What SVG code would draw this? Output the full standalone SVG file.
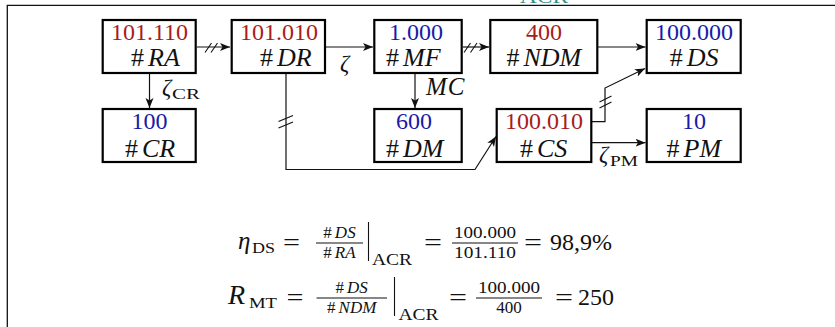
<svg xmlns="http://www.w3.org/2000/svg" width="835" height="327" viewBox="0 0 835 327">
<defs>
<style>
.box{fill:#fff;stroke:#000;stroke-width:2.2}
.num{font-family:"Liberation Serif",serif;font-size:24px;text-anchor:middle}
.red{fill:#a81c1c}
.blue{fill:#1a1aa8}
.it{font-family:"Liberation Serif",serif;font-size:26px;font-style:italic;fill:#111;text-anchor:middle}
.up{font-style:normal}
.lbl{font-family:"Liberation Serif",serif;fill:#111}
.con{fill:none;stroke:#111;stroke-width:1.2}
.tick{fill:none;stroke:#111;stroke-width:1.1}
.eq{font-family:"Liberation Serif",serif;fill:#111}
.rule{stroke:#111;stroke-width:1.1}
</style>
<marker id="ah" markerUnits="userSpaceOnUse" markerWidth="12" markerHeight="10" refX="10" refY="4" orient="auto">
<path d="M0,0 L10,4 L0,8 L2.5,4 z" fill="#111"/>
</marker>
</defs>
<rect width="835" height="327" fill="#fff"/>
<text x="520" y="3" font-family="Liberation Serif,serif" font-size="20" fill="#2e8f8f" textLength="48" lengthAdjust="spacingAndGlyphs">ACR</text>
<path d="M7.3,327 V5.3 H835" fill="none" stroke="#111" stroke-width="1.3"/>

<g id="connectors">
<path class="con" marker-end="url(#ah)" d="M197,47 H230"/>
<path class="con" marker-end="url(#ah)" d="M326,47 H373"/>
<path class="con" marker-end="url(#ah)" d="M463,47 H489"/>
<path class="con" marker-end="url(#ah)" d="M598,47 H645.5"/>
<path class="con" marker-end="url(#ah)" d="M149.5,74 V108"/>
<path class="con" marker-end="url(#ah)" d="M415,74 V108"/>
<path class="con" marker-end="url(#ah)" d="M286,74 V169.5 H475 L496,136.5"/>
<path class="con" marker-end="url(#ah)" d="M592,121.7 H605 V88 L645,68.5"/>
<path class="con" marker-end="url(#ah)" d="M592,142.7 H645.5"/>
<path class="tick" d="M205,52.5 L211.5,43 M211,52.5 L217.5,43"/>
<path class="tick" d="M464,52.5 L470.5,43 M470.5,52.5 L477,43"/>
<path class="tick" d="M278.5,121.5 L293,115.5 M278.5,128 L293,122"/>
<path class="tick" d="M599.5,102 L611.5,96 M599.5,108 L611.5,102"/>
<text class="lbl" x="340" y="71" font-size="23" font-style="italic">ζ</text>
<text class="lbl" x="162" y="95" font-size="23" font-style="italic">ζ</text>
<text class="lbl" x="172" y="98.5" font-size="15" textLength="28" lengthAdjust="spacingAndGlyphs">CR</text>
<text class="lbl" x="426" y="95" font-size="25" font-style="italic">M<tspan dx="1">C</tspan></text>
<text class="lbl" x="599" y="162" font-size="23" font-style="italic">ζ</text>
<text class="lbl" x="610" y="165.7" font-size="15" textLength="28" lengthAdjust="spacingAndGlyphs">PM</text>
</g>

<g id="node-RA">
<rect class="box" x="102.7" y="20" width="93" height="53"/>
<text class="num red" x="149.5" y="40">101.110</text>
<text class="it" x="155.5" y="66"><tspan class="up">#</tspan><tspan dx="4">R</tspan>A</text>
</g>
<g id="node-DR">
<rect class="box" x="231.7" y="20" width="93.3" height="53"/>
<text class="num red" x="279" y="40">101.010</text>
<text class="it" x="285.8" y="66"><tspan class="up">#</tspan><tspan dx="4">D</tspan>R</text>
</g>
<g id="node-MF">
<rect class="box" x="374.3" y="20" width="87.4" height="53"/>
<text class="num blue" x="416" y="40">1.000</text>
<text class="it" x="413.3" y="66"><tspan class="up">#</tspan><tspan dx="4">M</tspan>F</text>
</g>
<g id="node-NDM">
<rect class="box" x="490.3" y="20" width="107" height="53"/>
<text class="num red" x="544" y="40">400</text>
<text class="it" x="543.8" y="66"><tspan class="up">#</tspan><tspan dx="4">N</tspan>DM</text>
</g>
<g id="node-DS">
<rect class="box" x="646.7" y="20" width="94" height="53"/>
<text class="num blue" x="694" y="40">100.000</text>
<text class="it" x="694.2" y="66"><tspan class="up">#</tspan><tspan dx="4">D</tspan>S</text>
</g>
<g id="node-CR">
<rect class="box" x="102.7" y="109" width="93" height="53"/>
<text class="num blue" x="149.5" y="129.3">100</text>
<text class="it" x="150" y="156.5"><tspan class="up">#</tspan><tspan dx="4">C</tspan>R</text>
</g>
<g id="node-DM">
<rect class="box" x="374.3" y="109" width="87.4" height="53"/>
<text class="num blue" x="414" y="129.3">600</text>
<text class="it" x="414.7" y="156.5"><tspan class="up">#</tspan><tspan dx="4">D</tspan>M</text>
</g>
<g id="node-CS">
<rect class="box" x="496.7" y="109" width="94.6" height="53"/>
<text class="num red" x="544" y="129.3">100.010</text>
<text class="it" x="543.7" y="156.5"><tspan class="up">#</tspan><tspan dx="4">C</tspan>S</text>
</g>
<g id="node-PM">
<rect class="box" x="646.7" y="109" width="94" height="53"/>
<text class="num blue" x="694" y="129.3">10</text>
<text class="it" x="693.8" y="156.5"><tspan class="up">#</tspan><tspan dx="4">P</tspan>M</text>
</g>

<g id="equations">
<text class="eq" x="238" y="249" font-size="25" font-style="italic">η</text>
<text class="eq" x="252" y="253" font-size="15" textLength="23" lengthAdjust="spacingAndGlyphs">DS</text>
<text class="eq" x="283" y="249.5" font-size="24" textLength="17" lengthAdjust="spacingAndGlyphs">=</text>
<text class="eq" x="339.5" y="238" font-size="17" font-style="italic" text-anchor="middle"><tspan font-style="normal">#</tspan><tspan dx="3">D</tspan>S</text>
<line class="rule" x1="316" y1="243" x2="363" y2="243"/>
<text class="eq" x="339.5" y="258" font-size="17" font-style="italic" text-anchor="middle"><tspan font-style="normal">#</tspan><tspan dx="3">R</tspan>A</text>
<line class="rule" x1="368.5" y1="222" x2="368.5" y2="261" stroke-width="1.3"/>
<text class="eq" x="372" y="265" font-size="16" textLength="40" lengthAdjust="spacingAndGlyphs">ACR</text>
<text class="eq" x="424" y="249.5" font-size="24" textLength="18" lengthAdjust="spacingAndGlyphs">=</text>
<text class="eq" x="485" y="238" font-size="17" text-anchor="middle" textLength="62" lengthAdjust="spacingAndGlyphs">100.000</text>
<line class="rule" x1="452" y1="243" x2="518" y2="243"/>
<text class="eq" x="485" y="258" font-size="17" text-anchor="middle" textLength="62" lengthAdjust="spacingAndGlyphs">101.110</text>
<text class="eq" x="524" y="249.5" font-size="24" textLength="18" lengthAdjust="spacingAndGlyphs">=</text>
<text class="eq" x="550" y="250" font-size="24" textLength="62" lengthAdjust="spacingAndGlyphs">98,9%</text>

<text class="eq" x="228" y="304" font-size="28" font-style="italic">R</text>
<text class="eq" x="249" y="308" font-size="15" textLength="28" lengthAdjust="spacingAndGlyphs">MT</text>
<text class="eq" x="286.5" y="304.5" font-size="24" textLength="17" lengthAdjust="spacingAndGlyphs">=</text>
<text class="eq" x="351.7" y="293" font-size="17" font-style="italic" text-anchor="middle"><tspan font-style="normal">#</tspan><tspan dx="3">D</tspan>S</text>
<line class="rule" x1="316.5" y1="298" x2="387" y2="298"/>
<text class="eq" x="351.7" y="313" font-size="17" font-style="italic" text-anchor="middle"><tspan font-style="normal">#</tspan><tspan dx="3">N</tspan>DM</text>
<line class="rule" x1="394.5" y1="277" x2="394.5" y2="316" stroke-width="1.3"/>
<text class="eq" x="398.5" y="320" font-size="16" textLength="40" lengthAdjust="spacingAndGlyphs">ACR</text>
<text class="eq" x="449" y="304.5" font-size="24" textLength="18" lengthAdjust="spacingAndGlyphs">=</text>
<text class="eq" x="509" y="293" font-size="17" text-anchor="middle" textLength="62" lengthAdjust="spacingAndGlyphs">100.000</text>
<line class="rule" x1="476" y1="298" x2="542" y2="298"/>
<text class="eq" x="509" y="313" font-size="17" text-anchor="middle">400</text>
<text class="eq" x="555" y="304.5" font-size="24" textLength="18" lengthAdjust="spacingAndGlyphs">=</text>
<text class="eq" x="578" y="305" font-size="24" textLength="36" lengthAdjust="spacingAndGlyphs">250</text>
</g>
</svg>
